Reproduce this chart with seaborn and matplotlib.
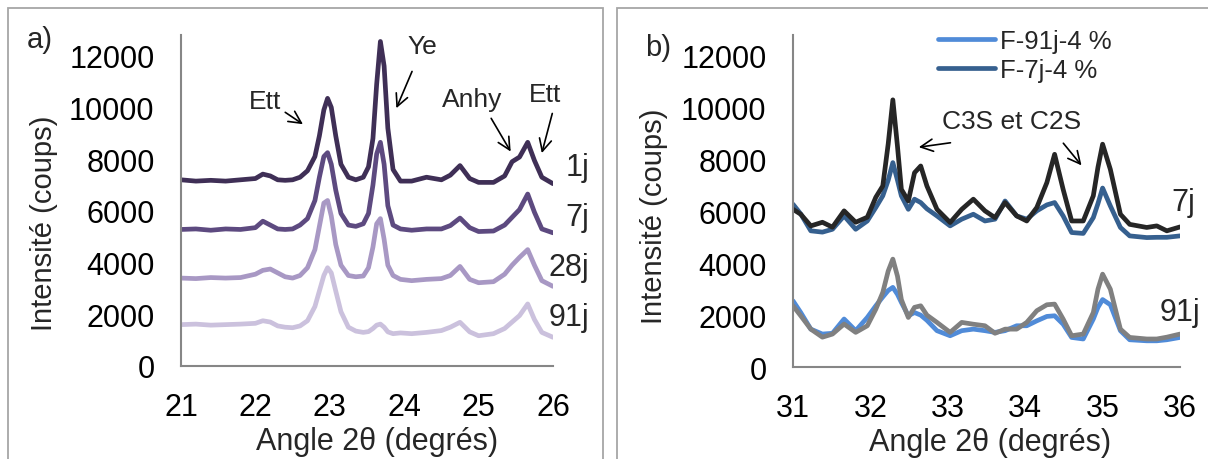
import matplotlib
matplotlib.use('Agg')
import matplotlib.pyplot as plt
import matplotlib.patches as mpatches
import seaborn as sns

sns.set_theme(style='white')
plt.rcParams['font.family'] = ['Liberation Sans', 'DejaVu Sans']

# --- data ---
# panel a) : 21-26 deg
angle_a = [21.0, 21.2, 21.4, 21.6, 21.8, 22.0, 22.1, 22.2, 22.3, 22.4, 22.5, 22.6, 22.7, 22.8,
           22.86, 22.92, 22.97, 23.02, 23.08, 23.15, 23.25, 23.35, 23.45, 23.52, 23.58, 23.63,
           23.68, 23.73, 23.78, 23.85, 23.95, 24.1, 24.3, 24.5, 24.62, 24.75, 24.88, 25.0, 25.2,
           25.35, 25.45, 25.55, 25.66, 25.75, 25.85, 26.0]
int_1j = [7200, 7150, 7180, 7150, 7200, 7250, 7420, 7350, 7200, 7180, 7200, 7300, 7550, 8100,
          8900, 9900, 10350, 10000, 8900, 7800, 7300, 7200, 7300, 7700, 8800, 10900,
          12550, 11600, 9200, 7600, 7150, 7150, 7300, 7200, 7380, 7750, 7250, 7100, 7100,
          7350, 7900, 8080, 8650, 7950, 7300, 7050]
int_7j = [5280, 5300, 5250, 5300, 5280, 5350, 5600, 5450, 5300, 5280, 5300, 5450, 5700, 6400,
          7300, 8100, 8250, 7800, 6800, 5900, 5450, 5400, 5500, 5900, 7000, 8200,
          8650, 7800, 6200, 5450, 5300, 5250, 5300, 5300, 5430, 5720, 5350, 5200, 5220,
          5450, 5750, 6050, 6650, 5950, 5300, 5150]
int_28j = [3400, 3380, 3420, 3400, 3420, 3550, 3700, 3750, 3600, 3450, 3400, 3500, 3800, 4500,
           5400, 6300, 6400, 5800, 4700, 3900, 3500, 3450, 3480, 3800, 4600, 5500,
           5700, 4900, 3900, 3500, 3350, 3300, 3350, 3380, 3500, 3850, 3350, 3220, 3260,
           3550, 3900, 4200, 4500, 3900, 3300, 3080]
int_91j = [1600, 1620, 1580, 1600, 1620, 1650, 1750, 1700, 1550, 1500, 1480, 1550, 1750, 2300,
           2900, 3500, 3800, 3600, 2900, 2100, 1500, 1350, 1300, 1330, 1450, 1580,
           1620, 1500, 1320, 1250, 1280, 1250, 1300, 1370, 1500, 1690, 1320, 1170, 1250,
           1450, 1700, 1950, 2400, 1800, 1300, 1110]
ages_a = ['1j', '7j', '28j', '91j']
colors_a = ['#3f2f56', '#5d4a80', '#a898c4', '#cbc1dd']

# panel b) : 31-36 deg
angle_b = [31.0, 31.1, 31.23, 31.38, 31.51, 31.66, 31.81, 31.96, 32.07, 32.16, 32.23, 32.29,
           32.35, 32.40, 32.49, 32.57, 32.65, 32.73, 32.86, 33.03, 33.18, 33.33, 33.48, 33.61,
           33.74, 33.89, 34.02, 34.15, 34.28, 34.38, 34.49, 34.6, 34.75, 34.88, 34.94, 35.0,
           35.1, 35.23, 35.35, 35.57, 35.7, 35.83, 36.0]
ref_7j = [6080, 5890, 5440, 5580, 5390, 6020, 5580, 5775, 6545, 6980, 8600, 10300,
          8500, 6850, 6400, 7490, 7750, 6980, 6080, 5570, 6080, 6470, 6020, 5760,
          6340, 5825, 5630, 6150, 7110, 8200, 6850, 5630, 5630, 6600, 7700, 8590,
          7620, 5890, 5500, 5380, 5440, 5250, 5400]
f_7j = [6275, 5900, 5250, 5200, 5310, 5825, 5310, 5630, 6150, 6600, 7200, 7880,
        7200, 6600, 6080, 6470, 6340, 6100, 5825, 5440, 5700, 5890, 5630, 5700,
        6400, 5825, 5700, 6020, 6250, 6340, 5825, 5185, 5150, 5760, 6300, 6900,
        6210, 5380, 5055, 4990, 5000, 5000, 5055]
ref_91j = [2360, 1975, 1460, 1150, 1270, 1655, 1335, 1590, 2230, 2875, 3700, 4160,
           3500, 2600, 1910, 2300, 2360, 2000, 1720, 1335, 1720, 1650, 1590, 1300,
           1460, 1460, 1720, 2170, 2400, 2425, 1850, 1205, 1270, 2100, 3000, 3580,
           3000, 1460, 1140, 1080, 1080, 1150, 1270]
f_91j = [2550, 2100, 1460, 1270, 1300, 1850, 1400, 1910, 2360, 2700, 2950, 3070,
         2800, 2490, 1975, 2100, 2000, 1800, 1400, 1205, 1400, 1460, 1400, 1335,
         1400, 1590, 1590, 1780, 1950, 1975, 1650, 1140, 1080, 1850, 2300, 2600,
         2400, 1400, 1050, 1010, 1010, 1050, 1140]
yticks = [0, 2000, 4000, 6000, 8000, 10000, 12000]

W, H = 1208, 460
fig = plt.figure(figsize=(W / 100, H / 100), dpi=100)

# frames around each panel
for x0, w in [(8, 595), (617, 620)]:
    fig.add_artist(mpatches.Rectangle((x0 / W, -0.1), w / W, 1.1 - 9 / H, transform=fig.transFigure,
                                      fill=False, edgecolor='#a6a6a6', lw=1.3))

ax1 = fig.add_axes([181 / W, 1 - 367 / H, 372 / W, 331 / H])
ax2 = fig.add_axes([793 / W, 1 - 368 / H, 387 / W, 332 / H])

lw = 3.4
for y, c in zip([int_1j, int_7j, int_28j, int_91j], colors_a):
    sns.lineplot(x=angle_a, y=y, color=c, lw=lw, ax=ax1)

sns.lineplot(x=angle_b, y=f_91j, color='#508bd8', lw=lw, ax=ax2, label='F-91j-4 %')
sns.lineplot(x=angle_b, y=f_7j, color='#36608f', lw=lw, ax=ax2, label='F-7j-4 %')
sns.lineplot(x=angle_b, y=ref_7j, color='#262626', lw=lw, ax=ax2, label='_nolegend_')
sns.lineplot(x=angle_b, y=ref_91j, color='#808080', lw=lw, ax=ax2, label='_nolegend_')

for ax, lo in [(ax1, 21), (ax2, 31)]:
    ax.set_xlim(lo, lo + 5)
    ax.set_ylim(0, 12800)
    ax.set_xticks(range(lo, lo + 6))
    ax.set_yticks(yticks)
    for s in ['top', 'right']:
        ax.spines[s].set_visible(False)
    for s in ['left', 'bottom']:
        ax.spines[s].set_color('#868686')
        ax.spines[s].set_linewidth(1.5)
    ax.tick_params(direction='in', length=6, width=1.5, color='#868686', labelsize=22,
                   labelcolor='black', pad=19)
    ax.set_xlabel('Angle 2θ (degrés)', fontsize=22)
    ax.set_ylabel('Intensité (coups)', fontsize=21)

ax1.yaxis.set_label_coords(-0.33, 0.435)
ax2.yaxis.set_label_coords(-0.322, 0.458)
ax1.xaxis.set_label_coords(0.528, -0.18)
ax2.xaxis.set_label_coords(0.51, -0.18)

fig.text(27 / W, 1 - 40 / H, 'a)', fontsize=21, va='center')
fig.text(645 / W, 1 - 48 / H, 'b)', fontsize=21, va='center')

# curve labels
for lab, yv in zip(ages_a, [7700, 5770, 3830, 1900]):
    ax1.text(26.49, yv, lab, fontsize=22, ha='right', va='center', clip_on=False)
ax2.text(36.2, 6350, '7j', fontsize=22, ha='right', va='center', clip_on=False)
ax2.text(36.26, 2120, '91j', fontsize=22, ha='right', va='center', clip_on=False)

arrow = dict(arrowstyle='->', color='black', lw=1.2, mutation_scale=22)
ax1.text(22.13, 10255, 'Ett', fontsize=19, ha='center', va='center')
ax1.annotate('', xy=(22.67, 9290), xytext=(22.37, 9870), arrowprops=arrow)
ax1.text(24.25, 12380, 'Ye', fontsize=19, ha='center', va='center')
ax1.annotate('', xy=(23.88, 9870), xytext=(24.12, 11490), arrowprops=arrow)
ax1.text(24.91, 10330, 'Anhy', fontsize=19, ha='center', va='center')
ax1.annotate('', xy=(25.45, 8200), xytext=(25.15, 9670), arrowprops=arrow)
ax1.text(25.89, 10530, 'Ett', fontsize=19, ha='center', va='center', clip_on=False)
ax1.annotate('', xy=(25.84, 8130), xytext=(26.0, 9870), arrowprops=arrow, annotation_clip=False)

ax2.text(33.83, 9470, 'C3S et C2S', fontsize=19, ha='center', va='center')
ax2.annotate('', xy=(32.59, 8460), xytext=(33.07, 8660), arrowprops=arrow)
ax2.annotate('', xy=(34.75, 7690), xytext=(34.47, 8710), arrowprops=arrow)

ax2.legend(loc='upper left', bbox_to_anchor=(928 / W, 1 - 20 / H), bbox_transform=fig.transFigure,
           frameon=False, fontsize=18.5, handlelength=2.2, handletextpad=0.2, labelspacing=0.2,
           borderaxespad=0)

fig.savefig('out.png', dpi=100)
